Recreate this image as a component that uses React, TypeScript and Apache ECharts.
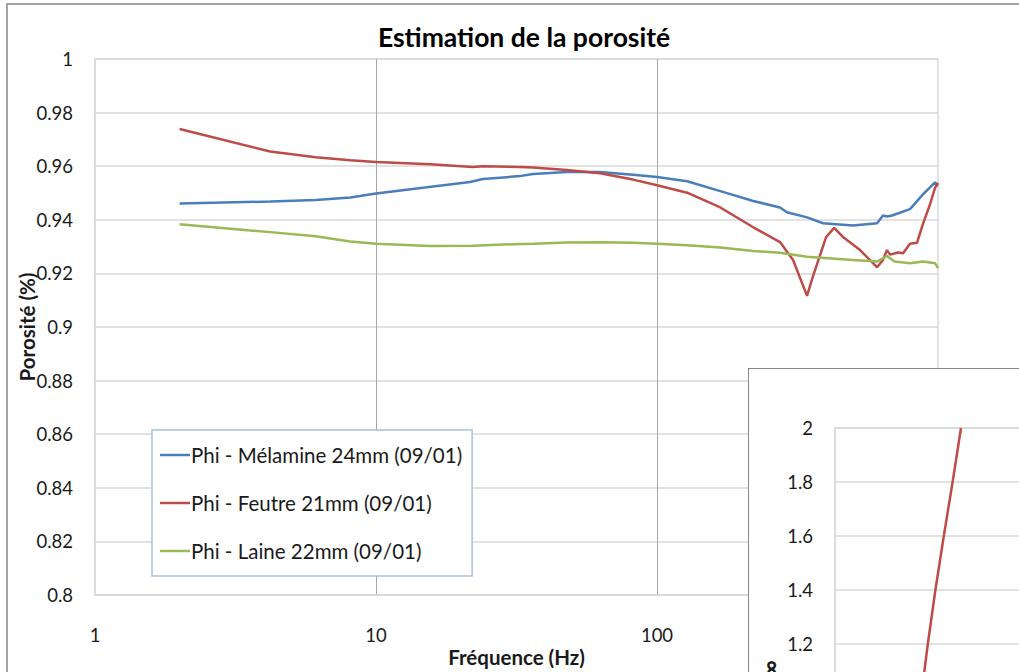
import React, { useEffect, useRef } from "react";
import * as echarts from "echarts";

// ---- Main chart data (frequency in Hz, porosity) ----
const freqMelamine = [2, 4.2, 6.1, 8.1, 10, 21.6, 24, 32.5, 36.2, 47.8, 62.7, 82.1, 100, 128, 168, 220, 274, 290, 342, 390, 498, 607, 637, 660, 686, 795, 884, 976, 1000];
const phiMelamine = [0.9461, 0.9468, 0.9474, 0.9483, 0.9498, 0.9541, 0.9552, 0.9563, 0.9571, 0.9578, 0.9578, 0.9568, 0.956, 0.9544, 0.9507, 0.947, 0.9446, 0.9428, 0.9409, 0.9387, 0.9379, 0.9387, 0.9416, 0.9412, 0.9416, 0.944, 0.9495, 0.954, 0.9527];

const freqFeutre = [2, 4.2, 6.1, 8.1, 10, 15.6, 22.1, 24, 32.5, 36.2, 47.8, 62.7, 82.1, 100, 128, 168, 220, 274, 305, 342, 356, 400, 427, 459, 528, 587, 607, 637, 658, 675, 720, 751, 795, 842, 884, 937, 976, 1000];
const phiFeutre = [0.9739, 0.9655, 0.9633, 0.9622, 0.9616, 0.9607, 0.9597, 0.96, 0.9597, 0.9595, 0.9586, 0.9574, 0.955, 0.9529, 0.9501, 0.9446, 0.9372, 0.9317, 0.925, 0.9116, 0.9178, 0.9336, 0.937, 0.9336, 0.9287, 0.9238, 0.9223, 0.925, 0.9287, 0.927, 0.9278, 0.9275, 0.9311, 0.9314, 0.9385, 0.9458, 0.9519, 0.9538];

const freqLaine = [2, 4.2, 6.1, 8.1, 10, 15.6, 22.1, 32.5, 36.2, 47.8, 62.7, 82.1, 100, 128, 168, 220, 274, 342, 498, 607, 658, 700, 795, 884, 976, 1000];
const phiLaine = [0.9383, 0.9354, 0.9339, 0.9319, 0.9311, 0.9302, 0.9303, 0.931, 0.9311, 0.9315, 0.9316, 0.9314, 0.9311, 0.9305, 0.9297, 0.9284, 0.9277, 0.9262, 0.925, 0.9244, 0.9265, 0.9244, 0.9238, 0.9244, 0.9238, 0.922];

const seriesNames = ["Phi - Mélamine 24mm (09/01)", "Phi - Feutre 21mm (09/01)", "Phi - Laine 22mm (09/01)"];
const seriesColors = ["#4a7ebb", "#be4b48", "#98b954"];

// ---- Inset chart data ----
const insetX = [31.5, 29.4, 27.2, 25.1, 23.2, 21.5];
const insetY = [2.0, 1.8, 1.6, 1.4, 1.2, 1.0];

const FONT = "Lato, 'Open Sans', sans-serif";
const TXT = "#1a1a1a";
const GRID_LIGHT = "#d9d9d9";
const GRID_V = "#a6a6a6";
const FRAME = "#868686";

const pairs = (xs: number[], ys: number[]) => xs.map((x, i) => [x, ys[i]]);

export default function App() {
  const mainRef = useRef<HTMLDivElement>(null);
  const insetRef = useRef<HTMLDivElement>(null);

  useEffect(() => {
    const main = echarts.init(mainRef.current!, null, { renderer: "svg" });
    main.setOption({
      animation: false,
      backgroundColor: "#ffffff",
      title: {
        text: "Estimation de la porosité",
        left: 519,
        textAlign: "center",
        top: 18,
        textStyle: { fontFamily: FONT, fontSize: 26.5, fontWeight: "bold", color: "#000" },
      },
      graphic: [
        {
          type: "rect",
          shape: { x: 7, y: 4, width: 1200, height: 900 },
          style: { fill: "none", stroke: FRAME, lineWidth: 1.5 },
          silent: true,
        },
      ],
      grid: {
        left: 95,
        top: 59,
        width: 843,
        height: 545,
        show: true,
        borderColor: GRID_LIGHT,
        borderWidth: 1.5,
      },
      legend: {
        orient: "vertical",
        left: 152,
        top: 430,
        padding: [13, 10, 13, 8],
        itemGap: 24,
        itemWidth: 30,
        itemHeight: 2.5,
        icon: "rect",
        backgroundColor: "#ffffff",
        borderColor: "#a9c0e2",
        borderWidth: 1.5,
        data: seriesNames,
        textStyle: { fontFamily: FONT, fontSize: 20.5, lineHeight: 24, height: 24, color: TXT, padding: [0, 0, 0, -4] },
      },
      xAxis: {
        type: "log",
        logBase: 10,
        min: 1,
        max: 1000,
        name: "Fréquence (Hz)",
        nameLocation: "middle",
        nameGap: 51,
        nameMoveOverlap: false,
        nameTextStyle: { fontFamily: FONT, fontSize: 20.5, fontWeight: "bold", color: TXT },
        axisLine: { show: true, lineStyle: { color: GRID_LIGHT, width: 1.5 } },
        axisTick: { show: false },
        minorTick: { show: false },
        axisLabel: { fontFamily: FONT, fontSize: 18.5, color: TXT, margin: 30 },
        splitLine: { show: true, showMinLine: false, showMaxLine: false, lineStyle: { color: GRID_V, width: 1 } },
      },
      yAxis: {
        type: "value",
        min: 0.8,
        max: 1,
        interval: 0.02,
        name: "Porosité (%)",
        nameLocation: "middle",
        nameGap: 58,
        nameMoveOverlap: false,
        nameTextStyle: { fontFamily: FONT, fontSize: 20.5, fontWeight: "bold", color: TXT },
        axisLine: { show: true, lineStyle: { color: GRID_LIGHT, width: 1.5 } },
        axisTick: { show: false },
        axisLabel: { fontFamily: FONT, fontSize: 18.5, color: TXT, margin: 22 },
        splitLine: { show: true, lineStyle: { color: GRID_LIGHT, width: 1.5 } },
      },
      series: [
        { name: seriesNames[0], data: pairs(freqMelamine, phiMelamine) },
        { name: seriesNames[1], data: pairs(freqFeutre, phiFeutre) },
        { name: seriesNames[2], data: pairs(freqLaine, phiLaine) },
      ].map((s, i) => ({
        ...s,
        type: "line",
        symbol: "none",
        color: seriesColors[i],
        lineStyle: { color: seriesColors[i], width: 2.5 },
      })),
    });

    const inset = echarts.init(insetRef.current!, null, { renderer: "svg" });
    inset.setOption({
      animation: false,
      backgroundColor: "#ffffff",
      graphic: [
        {
          type: "text",
          x: 20,
          y: 291,
          rotation: Math.PI / 2,
          style: {
            text: "Tortuosité α∞",
            fontFamily: FONT,
            fontSize: 25,
            fontWeight: "bold",
            fill: TXT,
            align: "right",
            verticalAlign: "middle",
          },
        },
      ],
      grid: {
        left: 86,
        top: 59,
        width: 400,
        height: 270,
        show: true,
        borderColor: GRID_LIGHT,
        borderWidth: 1.5,
      },
      xAxis: {
        type: "value",
        min: 0,
        max: 100,
        axisLine: { show: true, lineStyle: { color: GRID_LIGHT } },
        axisTick: { show: false },
        axisLabel: { show: false },
        splitLine: { show: false },
      },
      yAxis: {
        type: "value",
        min: 1,
        max: 2,
        interval: 0.2,
        axisLine: { show: true, lineStyle: { color: GRID_LIGHT, width: 1.5 } },
        axisTick: { show: false },
        axisLabel: { fontFamily: FONT, fontSize: 18.5, color: TXT, margin: 22, showMinLabel: false },
        splitLine: { show: true, lineStyle: { color: GRID_LIGHT, width: 1.5 } },
      },
      series: [
        {
          type: "line",
          symbol: "none",
          data: pairs(insetX, insetY),
          lineStyle: { color: seriesColors[1], width: 2.5 },
          color: seriesColors[1],
        },
      ],
    });

    return () => {
      main.dispose();
      inset.dispose();
    };
  }, []);

  return (
    <div style={{ position: "absolute", left: 0, top: 0, width: 1019, height: 672, overflow: "hidden", background: "#fff" }}>
      <div ref={mainRef} style={{ position: "absolute", left: 0, top: 0, width: 1019, height: 672 }} />
      <div
        ref={insetRef}
        style={{
          position: "absolute",
          left: 748,
          top: 368,
          width: 600,
          height: 400,
          borderLeft: "1.5px solid " + FRAME,
          borderTop: "1.5px solid " + FRAME,
          background: "#fff",
        }}
      />
    </div>
  );
}
